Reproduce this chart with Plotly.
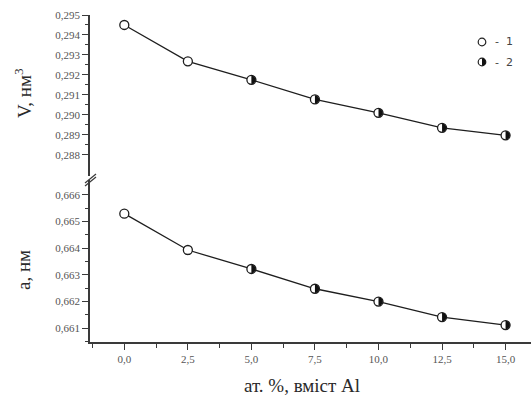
import plotly.graph_objects as go

# ---- data ----
x_pct = [0.0, 2.5, 5.0, 7.5, 10.0, 12.5, 15.0]
V_nm3 = [0.2945, 0.29268, 0.29175, 0.29077, 0.29010, 0.28935, 0.28897]
a_nm = [0.66529, 0.66393, 0.66322, 0.66248, 0.66200, 0.66142, 0.66112]
series = [1, 1, 2, 2, 2, 2, 2]

x_ticks = [0.0, 2.5, 5.0, 7.5, 10.0, 12.5, 15.0]
x_ticktext = ["0,0", "2,5", "5,0", "7,5", "10,0", "12,5", "15,0"]
V_ticks = [0.288, 0.289, 0.290, 0.291, 0.292, 0.293, 0.294, 0.295]
V_ticktext = ["0,288", "0,289", "0,290", "0,291", "0,292", "0,293", "0,294", "0,295"]
a_ticks = [0.661, 0.662, 0.663, 0.664, 0.665, 0.666]
a_ticktext = ["0,661", "0,662", "0,663", "0,664", "0,665", "0,666"]

x_minor = [-1.25] + [t + 1.25 for t in x_ticks]
V_minor = [(V_ticks[i] + V_ticks[i + 1]) / 2 for i in range(len(V_ticks) - 1)]
a_minor = [a_ticks[0] - 0.0005] + [(a_ticks[i] + a_ticks[i + 1]) / 2 for i in range(len(a_ticks) - 1)]

W, H = 531, 399
L, R, T, B = 90, 0, 15, 57
PW, PH = W - L - R, H - T - B


def px_x(p):
    return (p - L) / PW


def px_y(p):
    return (H - B - p) / PH


LINE = "#1e1e1e"
AX = "#3a3a3a"
TICKFONT = dict(family="Liberation Serif", size=11, color="#555555")
MSIZE = 9
RAD = 4.3
K = 0.5523
HALF_PATH = (f"M 0,{-RAD} C {K*RAD:.3f},{-RAD} {RAD},{-K*RAD:.3f} {RAD},0 "
             f"C {RAD},{K*RAD:.3f} {K*RAD:.3f},{RAD} 0,{RAD} Z")

fig = go.Figure()

s1 = [i for i, s in enumerate(series) if s == 1]
s2 = [i for i, s in enumerate(series) if s == 2]

for yvals, yax, yref in ((V_nm3, "y", "y"), (a_nm, "y2", "y2")):
    fig.add_trace(go.Scatter(x=x_pct, y=yvals, mode="lines", yaxis=yax,
                             line=dict(color=LINE, width=1.3), showlegend=False,
                             hoverinfo="skip"))
    fig.add_trace(go.Scatter(x=x_pct, y=yvals, mode="markers", yaxis=yax,
                             showlegend=False,
                             marker=dict(symbol="circle", size=MSIZE, color="white",
                                         line=dict(color=LINE, width=1.3))))
    # right half filled for series 2
    for i in s2:
        fig.add_shape(type="path", xref="x", yref=yref,
                      xsizemode="pixel", ysizemode="pixel",
                      xanchor=x_pct[i], yanchor=yvals[i], path=HALF_PATH,
                      fillcolor="#111111", line=dict(width=0), layer="above")

axis_common = dict(showline=True, linecolor=AX, linewidth=1.5, ticks="outside",
                   tickcolor=AX, tickwidth=1.3, ticklen=6, showgrid=False,
                   zeroline=False, tickfont=TICKFONT, tickmode="array",
                   automargin=False)

fig.update_layout(
    width=W, height=H,
    margin=dict(l=L, r=R, t=T, b=B),
    paper_bgcolor="white", plot_bgcolor="white",
    showlegend=False,
    xaxis=dict(range=[-1.35, 16.0], anchor="y2", tickvals=x_ticks, ticktext=x_ticktext,
               minor=dict(tickmode="array", tickvals=x_minor, ticks="outside", ticklen=4,
                          tickcolor=AX, tickwidth=1.3),
               **axis_common),
    yaxis=dict(domain=[px_y(176), 1], range=[0.286934, 0.295], anchor="x",
               tickvals=V_ticks, ticktext=V_ticktext,
               minor=dict(tickmode="array", tickvals=V_minor, ticks="outside", ticklen=3,
                          tickcolor=AX, tickwidth=1.3),
               **axis_common),
    yaxis2=dict(domain=[0, px_y(180)], range=[0.660487, 0.66655], anchor="x",
                tickvals=a_ticks, ticktext=a_ticktext,
                minor=dict(tickmode="array", tickvals=a_minor, ticks="outside", ticklen=3,
                           tickcolor=AX, tickwidth=1.3),
                **axis_common),
)

# axis break marks
for dy in (0, 3):
    fig.add_shape(type="line", xref="paper", yref="paper",
                  x0=px_x(85), y0=px_y(183 + dy), x1=px_x(96), y1=px_y(174 + dy),
                  line=dict(color=AX, width=1.2))

TITLEFONT = dict(family="Liberation Serif", size=19, color="#2a2a2a")
fig.add_annotation(text="V, нм<sup>3</sup>", xref="paper", yref="paper",
                   x=px_x(23), y=px_y(93), textangle=-90, showarrow=False,
                   xanchor="center", yanchor="middle", font=TITLEFONT)
fig.add_annotation(text="a, нм", xref="paper", yref="paper",
                   x=px_x(23), y=px_y(270), textangle=-90, showarrow=False,
                   xanchor="center", yanchor="middle", font=TITLEFONT)
fig.add_annotation(text="ат. %, вміст Al", xref="paper", yref="paper",
                   x=px_x(302), y=px_y(385), showarrow=False,
                   xanchor="center", yanchor="middle", font=TITLEFONT)

# legend (symbols drawn as pixel-sized shapes)
LEGFONT = dict(family="DejaVu Sans", size=11, color="#444444")
LR = 3.8
for ly in (42, 62):
    fig.add_shape(type="circle", xref="paper", yref="paper",
                  xsizemode="pixel", ysizemode="pixel",
                  xanchor=px_x(482), yanchor=px_y(ly),
                  x0=-LR, x1=LR, y0=-LR, y1=LR,
                  fillcolor="white", line=dict(color="#222222", width=1.2))
fig.add_shape(type="path", xref="paper", yref="paper",
              xsizemode="pixel", ysizemode="pixel",
              xanchor=px_x(482), yanchor=px_y(62),
              path=(f"M 0,{-LR} C {K*LR:.3f},{-LR} {LR},{-K*LR:.3f} {LR},0 "
                    f"C {LR},{K*LR:.3f} {K*LR:.3f},{LR} 0,{LR} Z"),
              fillcolor="#111111", line=dict(width=0))
fig.add_annotation(text="-  1", xref="paper", yref="paper", x=px_x(493), y=px_y(42),
                   showarrow=False, xanchor="left", yanchor="middle", font=LEGFONT)
fig.add_annotation(text="-  2", xref="paper", yref="paper", x=px_x(493), y=px_y(62),
                   showarrow=False, xanchor="left", yanchor="middle", font=LEGFONT)

fig.write_html("out.html", config={"displayModeBar": False},
               post_script="document.body.style.margin='0';document.body.style.padding='0';")
